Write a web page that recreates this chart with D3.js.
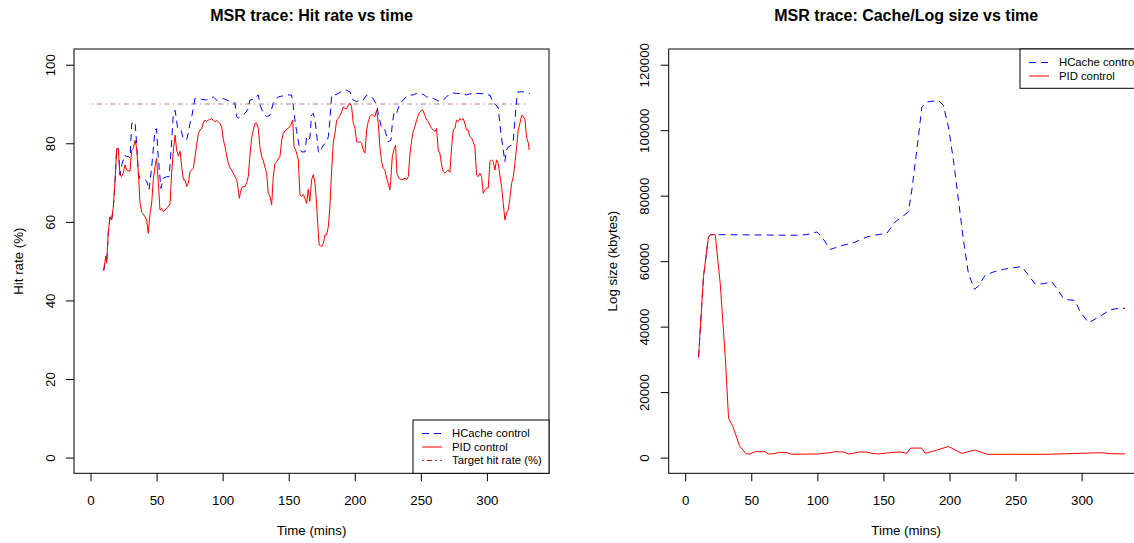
<!DOCTYPE html>
<html><head><meta charset="utf-8">
<script src="https://cdn.jsdelivr.net/npm/d3@7/dist/d3.min.js"></script>
<style>
body{margin:0;background:#fff;}
text{font-family:"Liberation Sans",Arial,Helvetica,sans-serif;fill:#000;}
</style></head>
<body>
<svg id="chart" width="1134" height="543"></svg>
<script>
// ---------- DATA ----------
const xTicks = [0, 50, 100, 150, 200, 250, 300];
const hitTicks = [0, 20, 40, 60, 80, 100];
const sizeTicks = [0, 20000, 40000, 60000, 80000, 100000, 120000];
const targetHitRate = 90;
const targetSpan = [1, 332];

// Hit rate (%) — PID control: [time(min), value]
const pidHit = [[10,47.6],[11.5,51.2],[12.2,49.5],[13.5,57.5],[14.8,61.3],[16,60.5],[17.3,63.9],[18.5,70],[19.8,78.7],[21,78.7],[22.3,71.9],[23.5,71.5],[24.8,72.5],[26.1,74.5],[27.4,73.2],[28.6,73],[29.9,72.9],[31.2,78.3],[32.4,78.7],[33.7,80.8],[35,78.7],[36.2,72.4],[37.5,64.7],[38.8,62.4],[40,62],[41.2,61.3],[42.5,60.5],[43.7,57.1],[45,62],[46.3,64.8],[47.5,70.7],[48.8,74],[50,76.2],[51.2,70.7],[52.6,63],[53.9,63.4],[55.1,62.6],[56.4,63],[57.6,63.5],[59,63.9],[60.2,64.7],[61.4,72.4],[62.7,78.3],[64,82.1],[65.2,78.3],[66.5,76.7],[67.8,78],[69,74],[70.3,70.7],[71.5,70.7],[72.8,69],[74,69.8],[75.3,72.8],[76.6,73.2],[77.8,73.6],[79,76.4],[80.3,79.5],[81.6,82.5],[82.9,83.4],[84.1,83.7],[85.3,85.1],[86.6,85.9],[87.8,85.5],[89,85.9],[90.3,86],[91.7,86.3],[92.9,85.8],[94.2,85.5],[95.4,85.8],[96.7,85.5],[98,85],[99.3,84.2],[100.5,81],[101.8,79.1],[103,77],[104.3,74.9],[105.6,73.8],[106.8,73.2],[108,72.4],[109.3,71.5],[110.6,70.8],[111.8,68.3],[112.6,66],[113.5,67.5],[114.4,68.6],[115.6,69],[116.9,69],[118.2,70],[119.4,71.5],[120.6,76.7],[121.9,81.3],[123.2,83.4],[124.5,85.1],[125.7,85.1],[127,83.8],[128.2,79.1],[129.5,76.7],[130.8,75.5],[132,74],[133.3,72.4],[134.5,67.3],[135.8,66.5],[137.1,64.3],[138.3,71.5],[139.6,74.9],[140.9,75.3],[142.1,76],[143.4,76.7],[144.7,80.8],[145.9,82.5],[147,83],[148,83.4],[149.7,83.8],[151.5,84.6],[153,85.9],[154,79.1],[155.3,78.3],[156.3,77],[157.3,75.8],[158.5,66.9],[159.8,66.5],[161,67],[162.3,66],[163.6,64.7],[164.8,68.3],[166,65.2],[167.3,70.7],[168.6,72],[169.9,69.8],[171.1,64.7],[172.4,57.1],[173.1,54.1],[174.9,53.7],[176.2,54.5],[177.5,56.7],[178.7,56.7],[180,58.8],[181.2,63.9],[182.5,73.2],[183.7,80],[185,82.5],[186.3,85.9],[187.6,86.3],[188.8,87.1],[190.1,88],[191.3,89.3],[192.6,88.8],[193.9,88.8],[195.1,89.7],[196.4,90.2],[197.6,89.3],[198.9,85.1],[200.2,83.8],[201.4,80.4],[202.7,80.2],[203.9,80.4],[205.2,80],[206.4,78.3],[207.7,77.5],[209,83.4],[210.2,85.5],[211.5,86.8],[212.8,87.3],[214,87.1],[215.3,86.8],[216.5,88.5],[217.8,85.1],[219,79.1],[220.3,75.3],[221.6,73.6],[222.8,73.2],[224.1,71.1],[225.3,69.8],[226.6,68.1],[227.4,71.5],[228.4,76.6],[229.9,78.7],[230.9,79.5],[231.9,72.4],[233.4,71.1],[235.5,70.7],[236.7,70.9],[238,71.1],[239.2,70.7],[240.5,71.5],[241.7,77],[243,80.6],[244.2,83],[245.5,84.2],[246.8,85.9],[248,87.1],[249.3,88],[251.3,88.6],[253.1,87.1],[254.4,85.9],[255.6,85.5],[256.9,84.6],[258.1,83.8],[259.4,83.4],[260.7,83],[261.9,83.8],[263.2,78.3],[264.4,77.5],[265.7,74.5],[266.9,72.8],[268.2,72.4],[269.5,72.8],[270.7,73.2],[272,72.6],[273.3,79.1],[274.5,83.4],[275.8,83.8],[277,85.9],[278.3,85.5],[279.6,86.3],[280.8,85.9],[282.1,86.3],[283.3,85.1],[284.6,83.4],[285.9,83.4],[287.1,81.7],[288.4,81.3],[289.6,80.4],[290.9,79.1],[292.2,71.9],[293.4,71.5],[294.7,72.4],[296,71.5],[297.2,67.3],[298.5,68.1],[299.7,68.6],[301,68.6],[302.3,75.3],[303.5,75.8],[304.8,75.3],[306.1,73.2],[307.3,75.8],[308.6,74.9],[309.8,71.9],[311.1,69],[312.4,64.7],[313.6,60.5],[314.9,62.3],[316.2,63.1],[317.4,66],[318.7,69.8],[320,71.5],[321.2,74.9],[322.5,79.1],[323.7,83.4],[325,85.1],[326.3,87.1],[327.6,86.8],[328.8,86.1],[330.1,81.3],[331.3,80.2],[332,78.3]];

// Hit rate (%) — HCache control
const hcacheHit = [[10,47.6],[11.5,51.2],[12.2,49.5],[13.5,57.5],[14.8,61.3],[16,60.5],[17.3,63.9],[18.5,70],[19.8,78.7],[21,78.7],[22.3,71.9],[23.6,74.5],[26.1,77],[27.4,76.5],[28.6,76.7],[29.9,76.2],[31.2,85.1],[33.7,85.5],[35,79.4],[36.2,72.4],[37.5,71],[38.8,70.8],[41.2,70.8],[42.5,70.4],[44.3,68.1],[46.3,74],[48.8,83.4],[50,83.7],[51.2,76.7],[53.3,68.5],[55.1,71.1],[57.6,71.5],[59.5,71.5],[61,78.3],[62.7,87.6],[64,88.4],[66,83.8],[68.5,83.4],[70.3,81],[72.8,81],[74,82.6],[75.3,85.1],[76.6,86.7],[79,91.4],[81.6,91.4],[84,91.2],[87.8,91],[90.3,91.4],[92.9,91.8],[95.4,91],[97.9,91],[100.5,91.4],[103,91],[106.9,90.6],[109.3,90.2],[110.6,86.8],[111.8,86.4],[114.4,87.1],[116.9,87.6],[119.4,88.8],[120.6,91],[123.2,91.2],[127,92.3],[128.2,89.8],[130.8,87.6],[133.3,86.8],[135.8,87.1],[138.3,90.2],[142.1,91.8],[144.7,92],[148.5,92.3],[152.2,92.3],[153.5,89.4],[154.7,86],[156,83],[158,79.1],[159.8,77.8],[162.3,77.8],[163.6,81.7],[164.8,81],[166,81.3],[167.3,87.2],[168.6,87.6],[169.9,85.9],[171.1,82.5],[172.4,77.9],[173.7,77.5],[174.9,78.7],[176.2,79.5],[178.7,80.4],[180,81.7],[181.2,85.9],[182.5,92.3],[185,92.3],[187.6,92.7],[191.3,93.5],[193.9,93.5],[196.4,93.1],[198.9,91],[201.4,90.6],[203.9,91],[206.4,91],[209,92.3],[211.5,91.8],[214,91.4],[216.5,89.7],[217.8,87.6],[220.3,83.8],[222.8,83.4],[225.3,80.4],[227.4,80.8],[228.4,85.1],[229.9,88],[231.6,87.6],[234.2,90.2],[236.7,91],[239.2,92],[242.5,92.3],[244.2,92.3],[246.8,92.7],[249.3,92.3],[251.8,92.5],[254.4,91.8],[256.9,91.8],[259.4,91.4],[261.9,91],[264.4,90.6],[266.9,91],[269.5,91.8],[272,92.7],[274.5,92.8],[277,92.7],[282.1,92.6],[284.6,92.3],[287.1,92.6],[292.2,92.7],[297.2,92.6],[299.7,92.3],[302.3,92.3],[304.8,90.2],[306.8,89.8],[308.6,89],[309.8,85.1],[311.1,81.3],[312.4,78.3],[313.6,75.3],[314.9,78.3],[316.2,79.1],[318.7,79.5],[320,80.8],[321.2,85.9],[322.5,91],[323.7,93.1],[326.3,93.1],[328.8,93.1],[331.3,92.8],[332.6,92.7]];

// Log size (kbytes) — PID control
const pidSize = [[10.1,30600],[13.8,55200],[17.6,67400],[19.4,68100],[22.7,68100],[26.5,53200],[30.3,30800],[32.8,12000],[36.1,9500],[41.1,3600],[46.2,1100],[48.8,1100],[53,1800],[60.5,1800],[63,1100],[68.1,1200],[70.6,1600],[76.9,1500],[80.7,1000],[99.6,1100],[109.7,1500],[113.5,1800],[119.8,1700],[123.6,1100],[127.4,1300],[131.2,1700],[137.5,1700],[141.3,1300],[146.3,1100],[152.6,1400],[157.6,1600],[162.7,1700],[167.7,1300],[170.7,2900],[179.1,2900],[181.6,1300],[190.4,2300],[199.2,3400],[209.3,1300],[219.4,2300],[228.3,1000],[248.4,1000],[273.6,1000],[298.9,1300],[314,1500],[321.6,1200],[332.9,1100]];

// Log size (kbytes) — HCache control
const hcacheSize = [[10.1,30600],[13.8,55200],[17.6,67400],[19.4,68100],[22.7,68100],[84.5,67900],[92,68100],[99.6,68900],[103.4,67400],[109.7,63600],[112.2,63900],[119.8,64900],[127.4,65600],[137.5,67400],[142.5,67900],[152.6,68500],[158.9,72000],[168.9,75000],[171.5,81700],[175.3,93900],[179.1,107100],[182.9,108600],[191.7,109100],[195.4,107600],[199.2,101000],[203,90800],[206.8,78600],[210.6,66400],[214.3,56300],[218.9,51400],[221.9,52400],[227,55700],[233.3,56700],[240.8,57500],[248.4,58000],[254.7,58300],[259.8,55700],[264.8,53000],[271.1,53100],[277.4,53700],[281.2,51700],[286.2,48600],[290,48200],[295,48000],[298.9,44500],[305.2,41200],[309,42000],[314,43200],[321.6,45100],[327.9,45600],[332.9,45600]];

// ---------- LAYOUT ----------
const svg = d3.select("#chart");
svg.append("rect").attr("width",1134).attr("height",543).attr("fill","#fff");

const BLUE = "#0000ff", RED = "#ff0000", TARGET = "#c07a7a";
const DASH = "7,5", DOTDASH = "1.5,3.5,5,3.5";
const plotTop = 49, plotBottom = 473.3;

function panel(opts){
  const g = svg.append("g");
  const x = d3.scaleLinear().domain([-12.5, 347]).range([opts.left, opts.left + 475]);
  const y = d3.scaleLinear().domain(opts.yDomain).range([plotBottom, plotTop]);
  const line = d3.line().x(d => x(d[0])).y(d => y(d[1]));

  const clipId = "clip" + opts.id;
  svg.append("clipPath").attr("id", clipId).append("rect")
    .attr("x", opts.left).attr("y", plotTop).attr("width", 475).attr("height", plotBottom - plotTop);
  const plot = g.append("g").attr("clip-path", `url(#${clipId})`);
  opts.series.forEach(s => {
    plot.append("path").datum(s.data).attr("d", line)
      .attr("fill","none").attr("stroke", s.color).attr("stroke-width", 1)
      .attr("stroke-dasharray", s.dash || null);
  });

  g.append("rect").attr("x", opts.left).attr("y", plotTop)
    .attr("width", 475).attr("height", plotBottom - plotTop)
    .attr("fill","none").attr("stroke","#000").attr("stroke-width",1);

  const xa = g.append("g").attr("transform", `translate(0,${plotBottom})`)
    .call(d3.axisBottom(x).tickValues(xTicks).tickSize(8).tickPadding(14).tickFormat(d3.format("d")));
  xa.select(".domain").remove();
  xa.selectAll("line").attr("stroke","#000");
  xa.selectAll("text").attr("font-size","13.3px").attr("font-family","Liberation Sans, Arial, sans-serif").attr("fill","#000");

  const ya = g.append("g").attr("transform", `translate(${opts.left},0)`)
    .call(d3.axisLeft(y).tickValues(opts.yTicks).tickSize(8).tickFormat(d3.format("d")));
  ya.select(".domain").remove();
  ya.selectAll("line").attr("stroke","#000");
  ya.selectAll("text").attr("font-size","13.3px").attr("font-family","Liberation Sans, Arial, sans-serif").attr("fill","#000")
    .attr("text-anchor","middle").attr("x",null)
    .attr("transform","translate(-24,0) rotate(-90)").attr("dy","0.36em");

  const cx = opts.left + 237.5;
  g.append("text").attr("x", cx).attr("y", 21).attr("text-anchor","middle")
    .attr("font-size","16px").attr("font-weight","bold").text(opts.title);
  g.append("text").attr("x", cx).attr("y", 535).attr("text-anchor","middle")
    .attr("font-size","13.3px").text("Time (mins)");
  g.append("text").attr("transform", `translate(${opts.left - 56},${(plotTop+plotBottom)/2}) rotate(-90)`)
    .attr("dy","0.36em").attr("text-anchor","middle").attr("font-size","13.3px").text(opts.ylab);

  const L = opts.legend;
  g.append("rect").attr("x", L.x).attr("y", L.y).attr("width", L.w).attr("height", L.h)
    .attr("fill","#fff").attr("stroke","#000").attr("stroke-width",1);
  L.items.forEach((it, i) => {
    const yy = L.y + 13.5 + i * 13.5;
    g.append("line").attr("x1", L.x + 9).attr("x2", L.x + 29).attr("y1", yy).attr("y2", yy)
      .attr("stroke", it.color).attr("stroke-width",1).attr("stroke-dasharray", it.dash || null);
    g.append("text").attr("x", L.x + 39).attr("y", yy).attr("dy","0.35em")
      .attr("font-size","11.3px").text(it.label);
  });
  return {x, y};
}

const targetLine = targetSpan.map(t => [t, targetHitRate]);

panel({
  id: "L", left: 74, yDomain: [-4, 104], yTicks: hitTicks,
  title: "MSR trace: Hit rate vs time", ylab: "Hit rate (%)",
  series: [
    {data: targetLine, color: TARGET, dash: DOTDASH},
    {data: hcacheHit, color: BLUE, dash: DASH},
    {data: pidHit, color: RED}
  ],
  legend: {x: 413, y: 420, w: 136, h: 53.3, items: [
    {label: "HCache control", color: BLUE, dash: DASH},
    {label: "PID control", color: RED},
    {label: "Target hit rate (%)", color: "#cc0000", dash: DOTDASH}
  ]}
});

panel({
  id: "R", left: 668.7, yDomain: [-4800, 124800], yTicks: sizeTicks,
  title: "MSR trace: Cache/Log size vs time", ylab: "Log size (kbytes)",
  series: [
    {data: hcacheSize, color: BLUE, dash: DASH},
    {data: pidSize, color: RED}
  ],
  legend: {x: 1020, y: 49, w: 130, h: 39.3, items: [
    {label: "HCache control", color: BLUE, dash: DASH},
    {label: "PID control", color: RED}
  ]}
});
</script>
</body></html>
